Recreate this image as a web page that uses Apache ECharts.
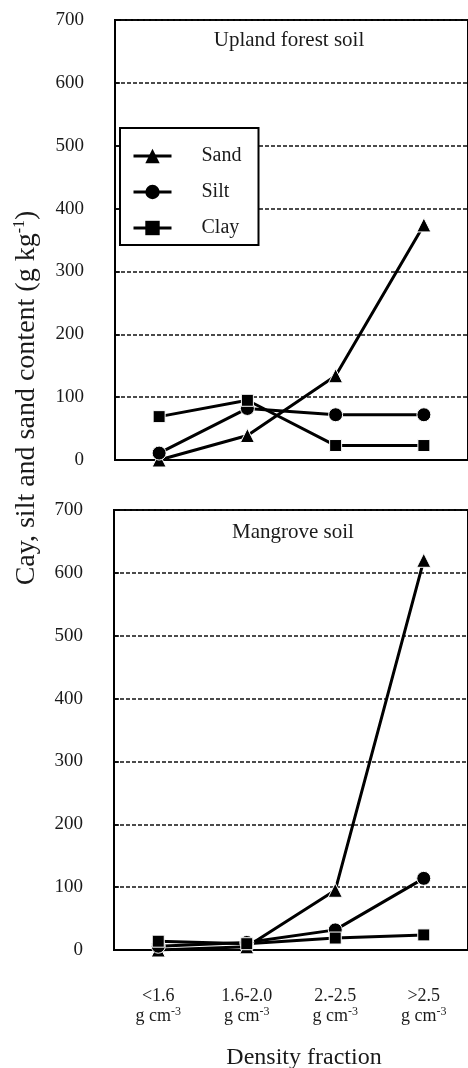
<!DOCTYPE html>
<html>
<head>
<meta charset="utf-8">
<script src="https://cdn.jsdelivr.net/npm/echarts@6/dist/echarts.min.js"></script>
<style>
    html, body { margin: 0; padding: 0; background: #fff; }
    #chart { width: 468px; height: 1068px; }
</style>
</head>
<body>
<div id="chart"></div>
<script>
// density fractions on the x axis
const categories = ['<1.6', '1.6-2.0', '2.-2.5', '>2.5']
// upland forest soil (g/kg)
const uplandSand = [0, 39, 134, 374]
const uplandSilt = [11, 82, 72, 72]
const uplandClay = [69, 95, 23, 23]
// mangrove soil (g/kg)
const mangroveSand = [0, 5, 95, 620]
const mangroveSilt = [6, 12, 32, 114]
const mangroveClay = [14, 10, 19, 24]

const serif = 'Liberation Serif'
const ink = '#1a1a1a'

const chart = echarts.init(document.getElementById('chart'))

function yAxis (gridIndex) {
    return {
        type: 'value',
        gridIndex: gridIndex,
        min: 0,
        max: 700,
        interval: 100,
        axisLine: { show: true, lineStyle: { color: '#000', width: 2 } },
        axisTick: { show: true, inside: true, length: 5, lineStyle: { color: '#000', width: 1.5 } },
        axisLabel: { margin: 31, fontFamily: serif, fontSize: 19, color: ink },
        splitLine: { show: true, lineStyle: { color: '#111', width: 1.5, type: [4, 2] } }
    }
}

function xAxis (gridIndex, labels) {
    return {
        type: 'category',
        gridIndex: gridIndex,
        data: categories,
        boundaryGap: true,
        axisLine: { show: true, lineStyle: { color: '#000', width: 2 } },
        axisTick: { show: false },
        axisLabel: {
            show: labels,
            margin: 36,
            interval: 0,
            fontFamily: serif,
            fontSize: 18,
            lineHeight: 20,
            color: ink,
            formatter: function (v) {
                return v + '\n{u|g cm}{sup|-3}'
            },
            rich: {
                u: { fontFamily: serif, fontSize: 18, lineHeight: 20, color: ink },
                sup: { fontFamily: serif, fontSize: 12, lineHeight: 12, verticalAlign: 'top', color: ink }
            }
        }
    }
}

function line (name, data, idx, symbol, size) {
    return {
        name: name,
        type: 'line',
        xAxisIndex: idx,
        yAxisIndex: idx,
        data: data,
        symbol: symbol,
        symbolSize: size,
        showAllSymbol: true,
        lineStyle: { color: '#000', width: 3 },
        itemStyle: { color: '#000', borderColor: '#fff', borderWidth: 1 },
        z: 3
    }
}

const option = {
    backgroundColor: '#fff',
    animation: false,
    grid: [
        { left: 115, right: -3, top: 20, height: 440, show: true, borderColor: '#000', borderWidth: 2 },
        { left: 114, right: -3, top: 510, height: 440, show: true, borderColor: '#000', borderWidth: 2 }
    ],
    xAxis: [xAxis(0, false), xAxis(1, true)],
    yAxis: [yAxis(0), yAxis(1)],
    legend: {
        data: ['Sand', 'Silt', 'Clay'],
        orient: 'vertical',
        left: 120,
        top: 128,
        padding: [17, 17, 6, 12],
        itemGap: 14,
        itemWidth: 38,
        itemHeight: 18,
        backgroundColor: '#fff',
        borderColor: '#000',
        borderWidth: 2,
        borderRadius: 0,
        selectedMode: false,
        lineStyle: { width: 3, color: '#000' },
        itemStyle: { borderWidth: 0 },
        textStyle: { fontFamily: serif, fontSize: 20, lineHeight: 22, color: ink, padding: [0, 0, 0, 25] }
    },
    graphic: [
        {
            type: 'text', x: 289, y: 40,
            style: { text: 'Upland forest soil', font: '21px "Liberation Serif"', fill: ink, textAlign: 'center', textVerticalAlign: 'middle' }
        },
        {
            type: 'text', x: 293, y: 532,
            style: { text: 'Mangrove soil', font: '21px "Liberation Serif"', fill: ink, textAlign: 'center', textVerticalAlign: 'middle' }
        },
        {
            type: 'text', x: 304, y: 1058,
            style: { text: 'Density fraction', font: '24px "Liberation Serif"', fill: ink, textAlign: 'center', textVerticalAlign: 'middle' }
        },
        {
            type: 'text', x: 27, y: 398, rotation: Math.PI / 2,
            style: {
                text: '{m|Cay, silt and sand content (g kg}{s|-1}{m|)}',
                textAlign: 'center',
                textVerticalAlign: 'middle',
                fill: ink,
                rich: {
                    m: { fontFamily: serif, fontSize: 28, lineHeight: 30, fill: ink },
                    s: { fontFamily: serif, fontSize: 16, lineHeight: 16, verticalAlign: 'top', fill: ink }
                }
            }
        }
    ],
    series: [
        line('Sand', uplandSand, 0, 'triangle', 14),
        line('Silt', uplandSilt, 0, 'circle', 14),
        line('Clay', uplandClay, 0, 'rect', 12),
        line('Sand', mangroveSand, 1, 'triangle', 14),
        line('Silt', mangroveSilt, 1, 'circle', 14),
        line('Clay', mangroveClay, 1, 'rect', 12)
    ]
}

chart.setOption(option)
window.addEventListener('resize', function () {
    chart.resize()
})
</script>
</body>
</html>
